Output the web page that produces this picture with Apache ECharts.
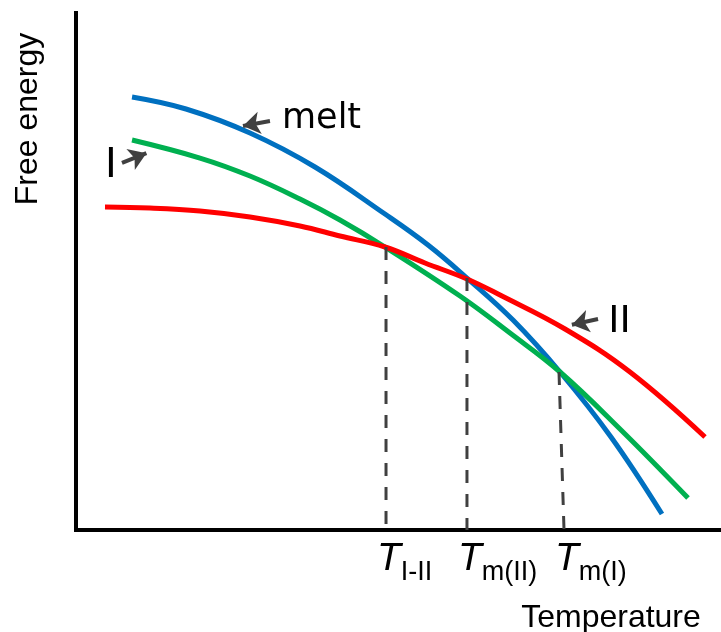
<!DOCTYPE html>
<html>
<head>
<meta charset="utf-8">
<script src="https://cdn.jsdelivr.net/npm/echarts@6/dist/echarts.min.js"></script>
<style>html,body{margin:0;padding:0;background:#fff}#c{width:721px;height:632px}</style>
</head>
<body>
<div id="c"></div>
<script>
// Free energy vs temperature (arbitrary units, 0-100)
var meltT = [8.70, 17.08, 27.02, 37.11, 47.98, 54.66, 60.71, 67.86, 75.16, 83.07, 90.99];
var meltG = [83.75, 81.43, 76.79, 70.21, 61.12, 55.13, 48.74, 40.62, 30.56, 17.99, 3.09];
var formIT = [8.70, 19.25, 27.02, 34.78, 40.99, 47.98, 59.63, 67.39, 75.16, 84.47, 95.03];
var formIG = [75.44, 71.95, 68.47, 64.02, 59.96, 54.74, 45.26, 38.10, 30.56, 19.54, 6.19];
var formIIT = [4.50, 11.49, 19.25, 27.02, 34.78, 40.99, 47.98, 54.19, 60.71, 65.84, 75.93, 86.02, 97.67];
var formIIG = [62.48, 62.28, 61.70, 60.54, 58.80, 56.87, 54.74, 51.64, 48.55, 45.45, 38.88, 30.56, 17.99];
// transition temperatures: [x at crossing, G at crossing, x at axis]
var transTop = [48.14, 60.71, 75.00];
var transG = [54.74, 48.74, 30.56];
var transBottom = [48.14, 60.71, 75.78];
var transSubs = ['I-II', 'm(II)', 'm(I)'];
// annotation labels and arrows
var annText = ['melt', 'I', 'II'];
var annX = [31.99, 5.43, 84.39];
var annY = [79.50, 70.21, 40.23];
var arrowFromX = [30.12, 7.14, 81.06];
var arrowFromY = [79.11, 70.99, 40.81];
var arrowToX = [25.93, 10.93, 77.00];
var arrowToY = [78.14, 72.88, 39.71];

function zip(a, b) { return a.map(function (v, i) { return [v, b[i]]; }); }

var chart = echarts.init(document.getElementById('c'), null, { renderer: 'canvas' });
var series = [];
var curves = [
  { x: meltT, y: meltG, color: '#0070C0' },
  { x: formIT, y: formIG, color: '#00B050' },
  { x: formIIT, y: formIIG, color: '#FF0000' }
];
curves.forEach(function (c) {
  series.push({
    type: 'line', data: zip(c.x, c.y), smooth: 0.4, symbol: 'none',
    lineStyle: { color: c.color, width: 5 }, silent: true
  });
});
transTop.forEach(function (x, i) {
  series.push({
    type: 'line', data: [[x, transG[i]], [transBottom[i], 0]], symbol: 'none',
    lineStyle: { color: '#404040', width: 3, type: [13, 11] }, silent: true, z: 5
  });
});
series.push({
  type: 'lines', coordinateSystem: 'cartesian2d', silent: true, z: 6,
  symbol: ['none', 'arrow'], symbolSize: 17,
  lineStyle: { color: '#404040', width: 4, opacity: 1 },
  data: arrowFromX.map(function (x, i) {
    return { coords: [[x, arrowFromY[i]], [arrowToX[i], arrowToY[i]]] };
  })
});
series.push({
  type: 'scatter', symbolSize: 0, silent: true, z: 7,
  itemStyle: { opacity: 1 },
  data: annText.map(function (t, i) {
    var isMelt = i === 0;
    return {
      value: [annX[i], annY[i]],
      label: {
        show: true, formatter: t, color: '#000', opacity: 1,
        fontFamily: 'DejaVu Sans', fontSize: isMelt ? 35 : (i === 1 ? 40 : 38),
        position: isMelt ? 'right' : 'inside', distance: 0
      }
    };
  })
});
series.push({
  type: 'scatter', symbolSize: 0, silent: true, z: 7,
  itemStyle: { opacity: 1 },
  data: transBottom.map(function (x, i) {
    return {
      value: [x, 0],
      label: {
        show: true, position: [-9, 10], opacity: 1,
        formatter: '{T|T}{s|' + transSubs[i] + '}',
        rich: {
          T: { fontFamily: 'Liberation Sans', fontStyle: 'italic', fontSize: 39, lineHeight: 38, color: '#000' },
          s: { fontFamily: 'Liberation Sans', fontSize: 27, lineHeight: 10, padding: [28, 0, 0, 0], color: '#000' }
        }
      }
    };
  })
});

chart.setOption({
  animation: false,
  backgroundColor: '#fff',
  grid: { left: 76, right: 1, top: 13, bottom: 102 },
  xAxis: {
    type: 'value', min: 0, max: 100,
    axisLine: { show: true, lineStyle: { color: '#000', width: 4, cap: 'square' } },
    axisTick: { show: false }, axisLabel: { show: false }, splitLine: { show: false }
  },
  yAxis: {
    type: 'value', min: 0, max: 100,
    axisLine: { show: true, lineStyle: { color: '#000', width: 4, cap: 'square' } },
    axisTick: { show: false }, axisLabel: { show: false }, splitLine: { show: false }
  },
  graphic: [
    { type: 'text', x: 28, y: 119, rotation: Math.PI / 2, silent: true,
      style: { text: 'Free energy', fontFamily: 'Liberation Sans', fontSize: 32, fill: '#000',
               align: 'center', verticalAlign: 'middle', textAlign: 'center', textVerticalAlign: 'middle' } },
    { type: 'text', x: 611, y: 618, silent: true,
      style: { text: 'Temperature', fontFamily: 'Liberation Sans', fontSize: 32, fill: '#000',
               align: 'center', verticalAlign: 'middle', textAlign: 'center', textVerticalAlign: 'middle' } }
  ],
  series: series
});
</script>
</body>
</html>
